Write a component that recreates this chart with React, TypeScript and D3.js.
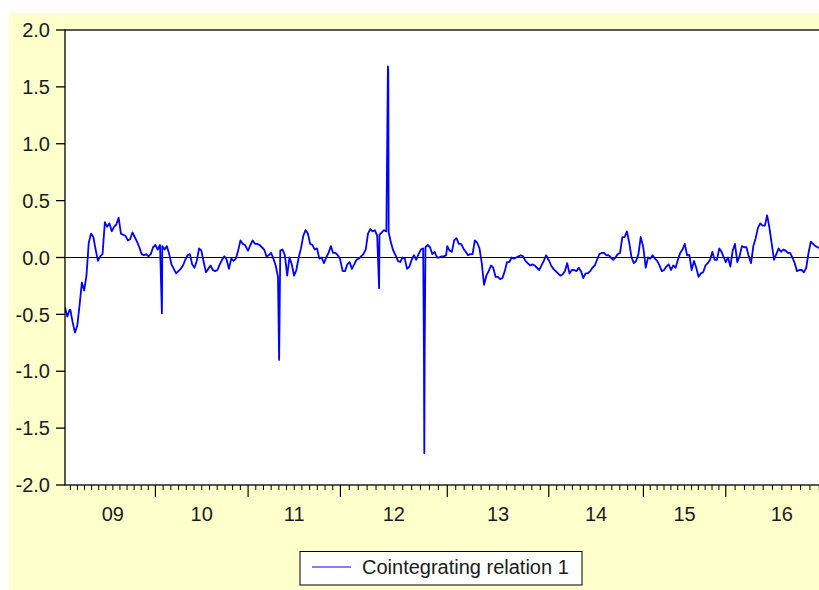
import * as d3 from 'd3';
import * as React from 'react';

// x axis: daily observations, grouped by year (EViews-style observation axis)
const yearLabels = ['09', '10', '11', '12', '13', '14', '15', '16'];
const obsPerYear = [222, 242, 241, 279, 265, 247, 215, 293];
const leadObs = 14; // last days of 2008
const sampleStep = 6; // one value read every 6 observations

// Cointegrating relation 1, read per year
const lead2008 = [-0.44, -0.52, -0.46];
const y2009 = [
  -0.46, -0.57, -0.66, -0.6, -0.42, -0.22, -0.29, -0.16, 0.13, 0.21, 0.18, 0.07, -0.03, 0.01, 0.03, 0.31,
  0.27, 0.3, 0.23, 0.27, 0.29, 0.35, 0.21, 0.2, 0.19, 0.15, 0.16, 0.22, 0.18, 0.14, 0.09, 0.03, 0.02, 0.03,
  0.01, 0.03, 0.09,
];
const y2010 = [
  0.11, 0.07, 0.11, 0.1, 0.07, 0.1, 0.03, -0.06, -0.1, -0.14, -0.12, -0.1, -0.07, -0.02, 0.02, 0.03, -0.06,
  -0.09, -0.03, 0.08, 0.06, -0.04, -0.13, -0.1, -0.07, -0.11, -0.12, -0.11, -0.06, -0.02, 0.01, -0.02, -0.1,
  -0.01, -0.03, -0.01, 0.06, 0.15, 0.12, 0.11, 0.07,
];
const y2011 = [
  0.06, 0.11, 0.15, 0.12, 0.12, 0.11, 0.09, 0.07, 0.01, 0.02, 0.04, -0.01, -0.07, -0.17, 0.06, 0.07, 0.02,
  -0.16, 0.0, -0.06, -0.16, -0.11, 0.0, 0.08, 0.19, 0.24, 0.21, 0.12, 0.11, 0.07, 0.08, -0.01, 0.0, -0.05,
  0.0, 0.04, 0.1, 0.04, 0.04, 0.02, -0.01,
];
const y2012 = [
  -0.03, -0.12, -0.12, -0.06, -0.04, -0.1, -0.06, -0.02, -0.01, 0.01, 0.03, 0.07, 0.21, 0.25, 0.23, 0.24,
  0.19, 0.2, 0.22, 0.24, 0.23, 0.22, 0.13, 0.06, 0.02, -0.03, -0.04, 0.0, -0.01, -0.1, -0.08, -0.02, 0.02,
  -0.02, 0.03, 0.07, 0.08, 0.09, 0.11, 0.09, 0.03, 0.05, 0.0, 0.0, 0.01, 0.01, 0.02,
];
const y2013 = [
  0.1, 0.06, 0.05, 0.15, 0.17, 0.12, 0.12, 0.08, 0.05, 0.02, 0.03, 0.03, 0.15, 0.13, 0.08, -0.05, -0.24,
  -0.16, -0.12, -0.07, -0.09, -0.17, -0.17, -0.19, -0.18, -0.12, -0.04, -0.04, 0.0, -0.01, 0.0, 0.01, 0.02,
  0.01, -0.03, -0.05, -0.07, -0.06, -0.07, -0.09, -0.11, -0.07, -0.03, 0.02, -0.02,
];
const y2014 = [
  -0.02, -0.07, -0.1, -0.12, -0.14, -0.16, -0.15, -0.12, -0.05, -0.14, -0.11, -0.11, -0.12, -0.09, -0.12,
  -0.18, -0.14, -0.14, -0.12, -0.09, -0.07, -0.02, 0.03, 0.04, 0.04, 0.02, 0.02, 0.0, -0.02, 0.0, 0.03, 0.04,
  0.18, 0.18, 0.23, 0.13, 0.0, -0.05, -0.03, 0.03, 0.18, 0.1,
];
const y2015 = [
  0.08, -0.09, 0.0, -0.01, 0.02, -0.01, -0.03, -0.07, -0.12, -0.11, -0.08, -0.06, -0.11, -0.07, -0.09, -0.02,
  0.04, 0.07, 0.12, 0.02, 0.02, -0.11, -0.03, -0.09, -0.17, -0.14, -0.13, -0.07, -0.05, -0.02, 0.05, -0.02,
  -0.02, 0.08, 0.05, 0.0,
];
const y2016 = [
  -0.04, 0.0, -0.08, 0.06, 0.12, -0.04, 0.01, 0.1, 0.09, 0.09, 0.01, -0.05, 0.1, 0.17, 0.26, 0.3, 0.28, 0.28,
  0.37, 0.26, 0.12, -0.02, 0.03, 0.08, 0.05, 0.07, 0.06, 0.04, 0.04, 0.0, -0.05, -0.12, -0.11, -0.11, -0.13,
  -0.09, 0.04, 0.14, 0.12, 0.1, 0.09, 0.08,
];
const yearValues = [y2009, y2010, y2011, y2012, y2013, y2014, y2015, y2016];

// single-day outliers: year index, observation within that year, value
const spikes = [
  { year: 1, obs: 17, value: -0.49 },
  { year: 2, obs: 81, value: -0.9 },
  { year: 3, obs: 101, value: -0.27 },
  { year: 3, obs: 124, value: 1.68 },
  { year: 3, obs: 125, value: 1.64 },
  { year: 3, obs: 218, value: -0.81 },
  { year: 3, obs: 219, value: -1.72 },
  { year: 3, obs: 220, value: -0.8 },
];

const yTicks = [-2, -1.5, -1, -0.5, 0, 0.5, 1, 1.5, 2];
const legendLabel = 'Cointegrating relation 1';

const font = 'Arial, "Liberation Sans", sans-serif';

export default function App() {
  const width = 819;
  const height = 590;
  const left = 65;
  const top = 30;
  const right = 838;
  const bottom = 485;

  const yearStart = obsPerYear.map((_, i) => leadObs + d3.sum(obsPerYear.slice(0, i)));
  const totalObs = leadObs + d3.sum(obsPerYear);

  const x = d3.scaleLinear().domain([0, totalObs]).range([left, right]);
  const y = d3.scaleLinear().domain([-2, 2]).range([bottom, top]);

  const points: { obs: number; value: number }[] = [];
  lead2008.forEach((v, i) => points.push({ obs: i * sampleStep, value: v }));
  yearValues.forEach((vals, k) =>
    vals.forEach((v, i) => points.push({ obs: yearStart[k] + i * sampleStep, value: v })),
  );
  spikes.forEach((s) => points.push({ obs: yearStart[s.year] + s.obs, value: s.value }));
  points.sort((a, b) => a.obs - b.obs);

  const line = d3
    .line<{ obs: number; value: number }>()
    .x((d) => x(d.obs))
    .y((d) => y(d.value));

  const minorTicks: number[] = [];
  yearStart.forEach((s, k) => {
    for (let m = 1; m < 12; m++) minorTicks.push(s + (m / 12) * obsPerYear[k]);
  });
  minorTicks.push(yearStart[0]);
  const majorTicks = yearStart.slice(1);

  return (
    <div style={{ position: 'absolute', left: 0, top: 0 }}>
      <svg width={width} height={height} style={{ display: 'block', fontFamily: font }}>
        <rect x={9} y={13} width={width - 9} height={height - 13} fill="#FFFFCC" />
        <defs>
          <clipPath id="plotClip">
            <rect x={left} y={top} width={right - left} height={bottom - top} />
          </clipPath>
        </defs>
        <rect x={left} y={top} width={right - left} height={bottom - top} fill="#fff" />

        {/* zero line */}
        <line x1={left} x2={right} y1={y(0)} y2={y(0)} stroke="#000" strokeWidth={1.2} />

        <path
          d={line(points) ?? ''}
          fill="none"
          stroke="#0000FF"
          strokeWidth={1.8}
          strokeLinejoin="round"
          clipPath="url(#plotClip)"
        />

        <rect
          x={left}
          y={top}
          width={right - left}
          height={bottom - top}
          fill="none"
          stroke="#000"
          strokeWidth={1.3}
        />

        {/* y axis */}
        {yTicks.map((t) => (
          <g key={t}>
            <line x1={left - 9} x2={left} y1={y(t)} y2={y(t)} stroke="#000" strokeWidth={1.3} />
            <text x={50} y={y(t)} dy="0.36em" textAnchor="end" fontSize={20} fill="#1a1a1a">
              {t.toFixed(1)}
            </text>
          </g>
        ))}

        {/* x axis */}
        {minorTicks.map((t, i) => (
          <line key={'m' + i} x1={x(t)} x2={x(t)} y1={bottom} y2={bottom + 5} stroke="#000" strokeWidth={1} />
        ))}
        {majorTicks.map((t, i) => (
          <line key={'M' + i} x1={x(t)} x2={x(t)} y1={bottom} y2={bottom + 12} stroke="#000" strokeWidth={1.2} />
        ))}
        {yearLabels.map((lab, k) => (
          <text
            key={lab}
            x={x(yearStart[k] + obsPerYear[k] / 2)}
            y={521}
            textAnchor="middle"
            fontSize={20}
            fill="#1a1a1a"
          >
            {lab}
          </text>
        ))}

        {/* legend */}
        <g transform="translate(300,551.5)">
          <rect width={282} height={33.5} fill="#fff" stroke="#000" strokeWidth={1} />
          <line x1={12} x2={51} y1={15.5} y2={15.5} stroke="#0000FF" strokeWidth={1.2} />
          <text x={62} y={22} fontSize={20} fill="#1a1a1a">
            {legendLabel}
          </text>
        </g>
      </svg>
    </div>
  );
}
